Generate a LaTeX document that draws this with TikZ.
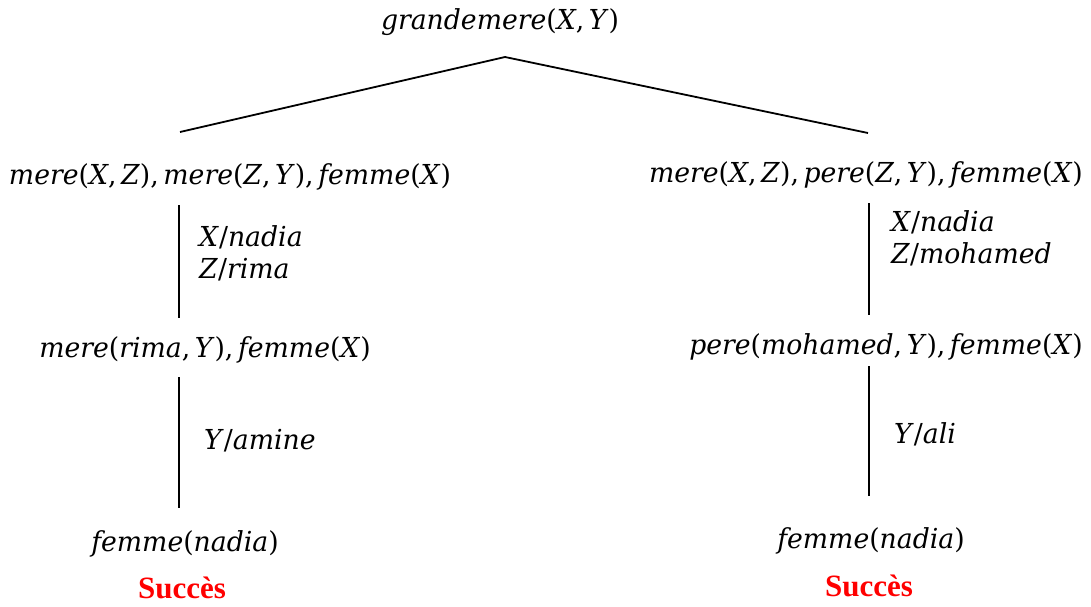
\documentclass[tikz,border=0pt]{standalone}
\usepackage{fontspec}
\setmainfont{Liberation Serif}
\newfontfamily\termfont[FakeStretch=0.97]{DejaVu Serif}
\newcommand{\vi}[1]{\textit{#1}}
\begin{document}
\begin{tikzpicture}[x=1pt,y=-1pt,
  term/.style={font=\termfont\fontsize{27.5}{31}\selectfont, inner sep=0pt, anchor=center},
  subst/.style={font=\termfont\fontsize{27.5}{31}\selectfont, inner sep=0pt, anchor=west, align=left},
  ok/.style={font=\bfseries\fontsize{31}{35}\selectfont, text=red, inner sep=0pt, anchor=center},
  edge/.style={line width=1.8pt}]
\useasboundingbox (0,0) rectangle (1091,606);

% goal
\node[term] (g) at (500,22) {\vi{grandemere}(\vi{X},\,\vi{Y})};

% left branch
\node[term] (l1) at (230,177) {\vi{mere}(\vi{X},\,\vi{Z}),\,\vi{mere}(\vi{Z},\,\vi{Y}),\,\vi{femme}(\vi{X})};
\node[term] (l2) at (205,350) {\vi{mere}(\vi{rima},\,\vi{Y}),\,\vi{femme}(\vi{X})};
\node[term] (l3) at (185,544) {\vi{femme}(\vi{nadia})};
\node[ok] (ls) at (182,588) {Succès};
\node[subst] (ls1) at (199,253) {\vi{X}/\vi{nadia}\\[1pt]\vi{Z}/\vi{rima}};
\node[subst] (ls2) at (204,441) {\vi{Y}/\vi{amine}};

% right branch
\node[term] (r1) at (866,175) {\vi{mere}(\vi{X},\,\vi{Z}),\,\vi{pere}(\vi{Z},\,\vi{Y}),\,\vi{femme}(\vi{X})};
\node[term] (r2) at (886,347) {\vi{pere}(\vi{mohamed},\,\vi{Y}),\,\vi{femme}(\vi{X})};
\node[term] (r3) at (871,541) {\vi{femme}(\vi{nadia})};
\node[ok] (rs) at (869,586) {Succès};
\node[subst] (rs1) at (891,238) {\vi{X}/\vi{nadia}\\[1pt]\vi{Z}/\vi{mohamed}};
\node[subst] (rs2) at (894,434) {\vi{Y}/\vi{ali}};

% connector end points
\coordinate (apex) at (505,57);
\coordinate (ta) at (180,132);
\coordinate (tb) at (868,133);
\coordinate (la1) at (179,205);
\coordinate (la2) at (179,318);
\coordinate (lb1) at (179,377);
\coordinate (lb2) at (179,508);
\coordinate (ra1) at (869,203);
\coordinate (ra2) at (869,315);
\coordinate (rb1) at (869,366);
\coordinate (rb2) at (869,496);

\draw[edge] (ta) -- (apex) -- (tb);
\draw[edge] (la1) -- (la2);
\draw[edge] (lb1) -- (lb2);
\draw[edge] (ra1) -- (ra2);
\draw[edge] (rb1) -- (rb2);
\end{tikzpicture}
\end{document}
